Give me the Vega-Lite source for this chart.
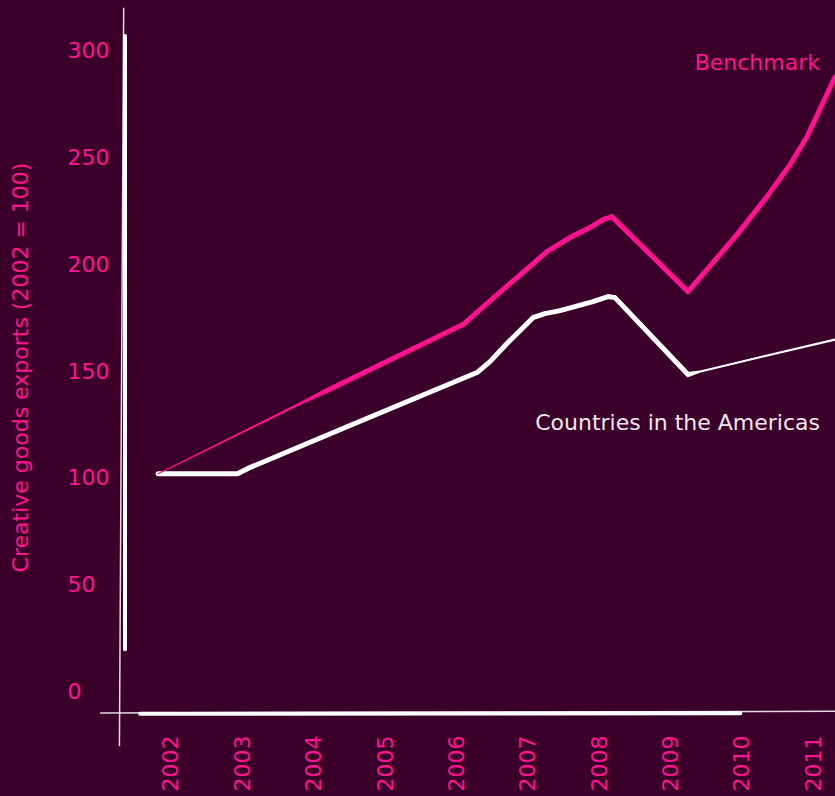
{
  "$schema": "https://vega.github.io/schema/vega-lite/v6.json",
  "width": 728,
  "height": 726,
  "autosize": {"type": "none"},
  "padding": {"left": 108, "top": 4, "right": 0, "bottom": 66},
  "background": "#3a0029",
  "config": {"view": {"stroke": null}, "font": "DejaVu Sans"},
  "datasets": {
    "series": [
      {"series": "Benchmark", "x": 2002.0, "y": 100},
      {"series": "Benchmark", "x": 2003.99, "y": 132.9},
      {"series": "Benchmark", "x": 2004.4, "y": 139.5},
      {"series": "Benchmark", "x": 2006.274, "y": 169.9},
      {"series": "Benchmark", "x": 2006.512, "y": 176.9},
      {"series": "Benchmark", "x": 2007.03, "y": 191.9},
      {"series": "Benchmark", "x": 2007.45, "y": 204.0},
      {"series": "Benchmark", "x": 2007.773, "y": 210.6},
      {"series": "Benchmark", "x": 2008.053, "y": 215.3},
      {"series": "Benchmark", "x": 2008.235, "y": 219.0},
      {"series": "Benchmark", "x": 2008.361, "y": 220.4},
      {"series": "Benchmark", "x": 2009.426, "y": 185.3},
      {"series": "Benchmark", "x": 2010.113, "y": 212.0},
      {"series": "Benchmark", "x": 2010.533, "y": 229.8},
      {"series": "Benchmark", "x": 2010.855, "y": 244.7},
      {"series": "Benchmark", "x": 2011.093, "y": 257.8},
      {"series": "Benchmark", "x": 2011.488, "y": 285.9},
      {"series": "Countries in the Americas", "x": 2002.0, "y": 100},
      {"series": "Countries in the Americas", "x": 2003.121, "y": 100.1},
      {"series": "Countries in the Americas", "x": 2003.261, "y": 102.5},
      {"series": "Countries in the Americas", "x": 2004.69, "y": 122.6},
      {"series": "Countries in the Americas", "x": 2006.47, "y": 147.4},
      {"series": "Countries in the Americas", "x": 2006.652, "y": 152.5},
      {"series": "Countries in the Americas", "x": 2006.89, "y": 161.0},
      {"series": "Countries in the Americas", "x": 2007.254, "y": 173.1},
      {"series": "Countries in the Americas", "x": 2007.422, "y": 175.0},
      {"series": "Countries in the Americas", "x": 2007.633, "y": 176.4},
      {"series": "Countries in the Americas", "x": 2008.095, "y": 180.6},
      {"series": "Countries in the Americas", "x": 2008.305, "y": 183.0},
      {"series": "Countries in the Americas", "x": 2008.403, "y": 182.5},
      {"series": "Countries in the Americas", "x": 2009.426, "y": 146.5},
      {"series": "Countries in the Americas", "x": 2009.6, "y": 147.9},
      {"series": "Countries in the Americas", "x": 2010.477, "y": 154.9},
      {"series": "Countries in the Americas", "x": 2011.486, "y": 162.8}
    ],
    "labels": [
      {"series": "Benchmark", "x": 2011.276, "y": 292.5},
      {"series": "Countries in the Americas", "x": 2011.276, "y": 124.0}
    ],
    "frameThin": [
      {"x": 2001.52, "x2": 2001.46, "y": 318.2, "y2": -27.6},
      {"x": 2001.19, "x2": 2011.49, "y": -12.0, "y2": -11.2}
    ],
    "frameThick": [
      {"x": 2001.538, "x2": 2001.538, "y": 17.8, "y2": 305.0},
      {"x": 2001.75, "x2": 2010.16, "y": -12.4, "y2": -12.2}
    ]
  },
  "encoding": {
    "x": {
      "field": "x",
      "type": "quantitative",
      "scale": {"domain": [2001.3, 2011.5], "nice": false, "zero": false},
      "axis": {
        "values": [2002, 2003, 2004, 2005, 2006, 2007, 2008, 2009, 2010, 2011],
        "format": "d",
        "title": null,
        "domain": false,
        "ticks": false,
        "tickSize": 0,
        "grid": false,
        "labelAngle": -90,
        "labelAlign": "left",
        "labelBaseline": "middle",
        "labelOffset": 13,
        "labelPadding": 61,
        "labelColor": "#ff1490",
        "labelFontSize": 22,
        "labelFontWeight": "normal",
        "labelFont": "DejaVu Sans",
        "labelFlush": false,
        "labelOverlap": false
      }
    },
    "y": {
      "field": "y",
      "type": "quantitative",
      "scale": {"domain": [-20, 320], "nice": false, "zero": false},
      "axis": {
        "values": [0, 50, 100, 150, 200, 250, 300],
        "title": "Creative goods exports (2002 = 100)",
        "titleColor": "#ff1490",
        "titleFontSize": 22,
        "titleFontWeight": "normal",
        "titleFont": "DejaVu Sans",
        "titleAngle": -90,
        "titleAlign": "center",
        "titleBaseline": "middle",
        "titleX": -88,
        "titleY": 363,
        "domain": false,
        "ticks": false,
        "tickSize": 0,
        "grid": false,
        "labelAlign": "left",
        "labelBaseline": "middle",
        "labelPadding": 41,
        "labelOffset": 4,
        "labelColor": "#ff1490",
        "labelFontSize": 22,
        "labelFontWeight": "normal",
        "labelFont": "DejaVu Sans",
        "labelFlush": false,
        "labelOverlap": false
      }
    }
  },
  "resolve": {"scale": {"size": "independent"}},
  "layer": [
    {
      "data": {"name": "frameThin"},
      "mark": {"type": "rule", "color": "#ffffff", "strokeWidth": 1.5, "opacity": 0.85},
      "encoding": {"x2": {"field": "x2"}, "y2": {"field": "y2"}}
    },
    {
      "data": {"name": "frameThick"},
      "mark": {"type": "rule", "color": "#ffffff", "strokeWidth": 4, "strokeCap": "round"},
      "encoding": {"x2": {"field": "x2"}, "y2": {"field": "y2"}}
    },
    {
      "data": {"name": "series"},
      "transform": [{"filter": "datum.series === 'Countries in the Americas'"}],
      "mark": {"type": "trail", "color": "#ffffff"},
      "encoding": {
        "size": {
          "field": "x",
          "type": "quantitative",
          "scale": {"type": "threshold", "domain": [2009.5], "range": [5, 2.2]},
          "legend": null
        }
      }
    },
    {
      "data": {"name": "series"},
      "transform": [{"filter": "datum.series === 'Benchmark'"}],
      "mark": {"type": "trail", "color": "#ff1190"},
      "encoding": {
        "size": {
          "field": "x",
          "type": "quantitative",
          "scale": {"type": "threshold", "domain": [2003.5, 2004.2], "range": [1, 2.5, 5]},
          "legend": null
        }
      }
    },
    {
      "data": {"name": "labels"},
      "mark": {"type": "text", "align": "right", "baseline": "middle", "fontSize": 22, "fontWeight": "normal", "font": "DejaVu Sans"},
      "encoding": {
        "text": {"field": "series"},
        "color": {
          "field": "series",
          "type": "nominal",
          "scale": {"domain": ["Benchmark", "Countries in the Americas"], "range": ["#ff1490", "#f2e6ee"]},
          "legend": null
        }
      }
    }
  ]
}
